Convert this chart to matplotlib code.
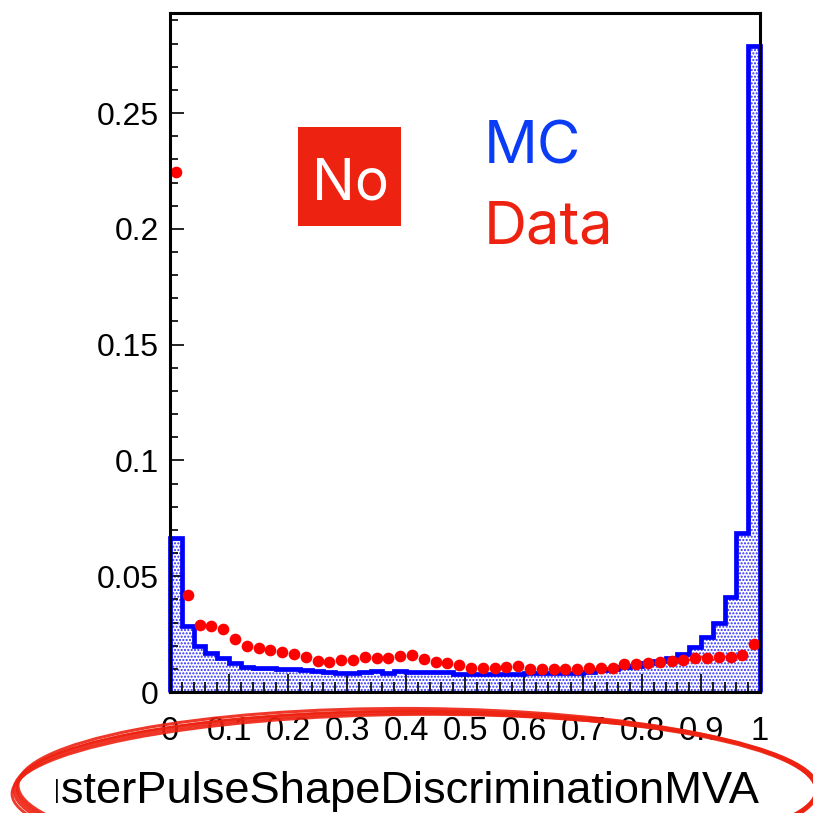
import numpy as np
import matplotlib
matplotlib.use('Agg')
import matplotlib.pyplot as plt
from matplotlib.patches import Ellipse, Rectangle
from matplotlib.transforms import Bbox, TransformedBbox
from matplotlib.ticker import MultipleLocator, FixedLocator

# bordes de los bines (50 bines de 0 a 1)
bordes = np.linspace(0, 1, 51)

# MC: histograma normalizado
mc = [0.0665, 0.0285, 0.0200, 0.0170, 0.0147, 0.0125, 0.0108, 0.0105, 0.0102, 0.0100,
      0.0098, 0.0093, 0.0090, 0.0085, 0.0082, 0.0082, 0.0085, 0.0092, 0.0084, 0.0092,
      0.0085, 0.0085, 0.0085, 0.0085, 0.0078, 0.0078, 0.0078, 0.0078, 0.0078, 0.0078,
      0.0084, 0.0080, 0.0080, 0.0080, 0.0082, 0.0085, 0.0095, 0.0098, 0.0108, 0.0112,
      0.0125, 0.0132, 0.0147, 0.0164, 0.0194, 0.0238, 0.0298, 0.0410, 0.0687, 0.2790]

# Data: puntos
data = [0.2245, 0.0420, 0.0290, 0.0285, 0.0270, 0.0230, 0.0200, 0.0190, 0.0180, 0.0173,
        0.0164, 0.0151, 0.0134, 0.0130, 0.0138, 0.0138, 0.0151, 0.0145, 0.0145, 0.0155,
        0.0158, 0.0142, 0.0130, 0.0124, 0.0117, 0.0104, 0.0104, 0.0104, 0.0106, 0.0112,
        0.0100, 0.0100, 0.0100, 0.0099, 0.0099, 0.0104, 0.0104, 0.0104, 0.0120, 0.0120,
        0.0124, 0.0130, 0.0134, 0.0138, 0.0147, 0.0147, 0.0151, 0.0150, 0.0160, 0.0207]

xticks = [0, 0.1, 0.2, 0.3, 0.4, 0.5, 0.6, 0.7, 0.8, 0.9, 1.0]
xlabels = ['0', '0.1', '0.2', '0.3', '0.4', '0.5', '0.6', '0.7', '0.8', '0.9', '1']
yticks = [0, 0.05, 0.1, 0.15, 0.2, 0.25]
ylabels = ['0', '0.05', '0.1', '0.15', '0.2', '0.25']

centros = 0.5 * (bordes[:-1] + bordes[1:])

rojo = '#ee2211'
W = 813.0

fig = plt.figure(figsize=(8.13, 8.13), dpi=100)
ax = fig.add_axes([170 / W, 1 - 692 / W, 590 / W, 679 / W])

# relleno punteado del MC
ax.stairs(mc, bordes, baseline=0, fill=True, facecolor='white', edgecolor='#2a2aff',
          hatch='.....', linewidth=0, zorder=1)
# contorno del MC
ax.stairs(mc, bordes, baseline=0, fill=False, color='#0000ff', linewidth=3.4,
          zorder=3, clip_on=False)

# puntos de datos
ax.plot(centros, data, 'o', color='#ff0000', markersize=8.4, markeredgewidth=0, zorder=4)

ax.set_xlim(0, 1)
ax.set_ylim(0, 0.2932)

ax.xaxis.set_major_locator(FixedLocator(xticks))
ax.set_xticklabels(xlabels)
ax.xaxis.set_minor_locator(MultipleLocator(0.02))
ax.yaxis.set_major_locator(FixedLocator(yticks))
ax.set_yticklabels(ylabels)
ax.yaxis.set_minor_locator(MultipleLocator(0.01))

fuente = 'Liberation Sans'
ax.tick_params(axis='both', which='both', direction='in', top=False, right=False,
               width=1.2, color='black')
ax.tick_params(axis='x', which='major', length=13, pad=17, labelsize=23.5)
ax.tick_params(axis='x', which='minor', length=7)
ax.tick_params(axis='y', which='major', length=10, pad=8, labelsize=23)
ax.tick_params(axis='y', which='minor', length=5.5)
for lab in ax.get_xticklabels() + ax.get_yticklabels():
    lab.set_family(fuente)

for sp in ax.spines.values():
    sp.set_linewidth(2.2)
    sp.set_zorder(5)

# titulo del eje x, recortado a la izquierda como en el pad original
t = fig.text(760 / W, 1 - 803 / W, 'ClusterPulseShapeDiscriminationMVA', ha='right',
             va='baseline', fontsize=32.6, family=fuente)
t.set_clip_box(TransformedBbox(Bbox([[56 / W, 0], [1, 1]]), fig.transFigure))
t.set_clip_on(True)

# etiquetas
fig.add_artist(Rectangle((298 / W, 1 - 226 / W), 103 / W, 99 / W, transform=fig.transFigure,
                         facecolor=rojo, edgecolor='none', zorder=6))
fig.text(350 / W, 1 - 200 / W, 'No', ha='center', va='baseline', color='white',
         fontsize=41, family='Inter', zorder=7)
fig.text(484 / W, 1 - 163 / W, 'MC', ha='left', va='baseline', color='#0a3cf5',
         fontsize=43, family='Inter', zorder=7)
fig.text(484 / W, 1 - 243 / W, 'Data', ha='left', va='baseline', color=rojo,
         fontsize=43, family='Inter', zorder=7)

# elipse roja dibujada a mano
for (cx, cy, a, b, ang, lw) in [(416, 790, 802, 156, 0.0, 3.6),
                                (417, 788, 798, 159, -0.4, 2.2),
                                (415, 791, 806, 153, 0.4, 2.0),
                                (417, 789, 800, 155, -0.2, 1.6)]:
    fig.add_artist(Ellipse((cx / W, 1 - cy / W), a / W, b / W, angle=ang,
                           transform=fig.transFigure, fill=False, edgecolor=rojo,
                           linewidth=lw, alpha=0.9, zorder=10))

fig.savefig('out.png', dpi=100)
